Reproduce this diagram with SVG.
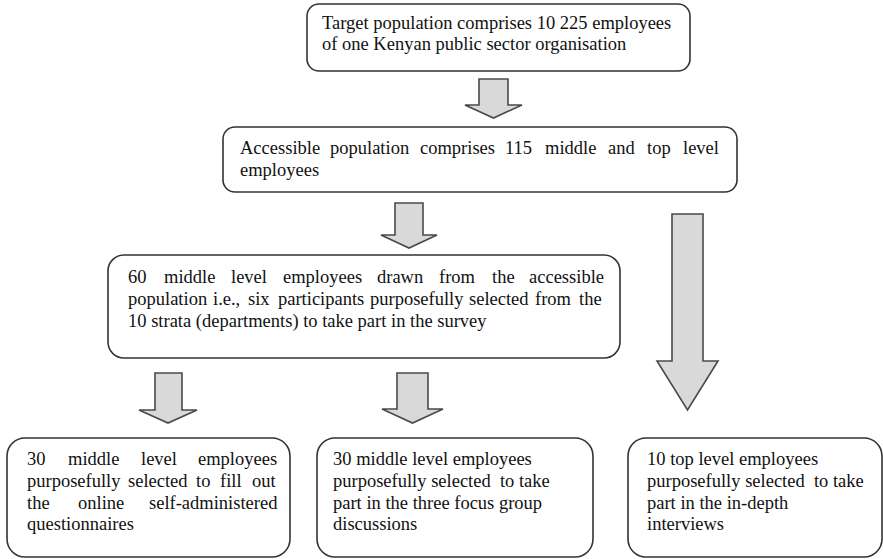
<svg xmlns="http://www.w3.org/2000/svg" width="883" height="559" viewBox="0 0 883 559">
  <style>
    .box { fill: #ffffff; stroke: #333333; stroke-width: 1.6; }
    .arrow { fill: #d9d9d9; stroke: #4a4a4a; stroke-width: 1.6; stroke-linejoin: miter; }
    text { font-family: 'Liberation Serif', Tinos, 'Times New Roman', Times, serif; font-size: 18.5px; fill: #111111; }
  </style>
  <rect width="883" height="559" fill="#ffffff"/>

  <!-- block arrows between the stages -->
  <g id="connectors">
    <polygon class="arrow" points="479,79 508,79 508,105 522,105 493.5,118 465,105 479,105"/>
    <polygon class="arrow" points="395,203 423,203 423,235 437,235 409,248 381,235 395,235"/>
    <polygon class="arrow" points="155,373 182,373 182,410 197,410 168,423 139,410 155,410"/>
    <polygon class="arrow" points="397,373 428,373 428,409 443,409 412.5,423 382,409 397,409"/>
    <polygon class="arrow" points="672,214 703,214 703,361 718,361 687.5,410 657,361 672,361"/>
  </g>

  <g id="target">
    <rect class="box" x="307" y="4" width="383" height="67" rx="12"/>
    <text x="322" y="29">Target population comprises 10 225 employees</text>
    <text x="322" y="50">of one Kenyan public sector organisation</text>
  </g>

  <g id="accessible">
    <rect class="box" x="223" y="127" width="514" height="65" rx="12"/>
    <text y="154"><tspan x="240">Accessible</tspan><tspan x="330">population</tspan><tspan x="420">comprises</tspan><tspan x="505">115</tspan><tspan x="545">middle</tspan><tspan x="608">and</tspan><tspan x="647">top</tspan><tspan x="683">level</tspan></text>
    <text x="240" y="176">employees</text>
  </g>

  <g id="survey-sample">
    <rect class="box" x="108" y="255" width="512" height="103" rx="16"/>
    <text y="283"><tspan x="128">60</tspan><tspan x="164">middle</tspan><tspan x="231">level</tspan><tspan x="283">employees</tspan><tspan x="377">drawn</tspan><tspan x="439">from</tspan><tspan x="492">the</tspan><tspan x="529">accessible</tspan></text>
    <text y="305"><tspan x="128">population</tspan><tspan x="213">i.e.,</tspan><tspan x="248">six</tspan><tspan x="278">participants</tspan><tspan x="370">purposefully</tspan><tspan x="469">selected</tspan><tspan x="535">from</tspan><tspan x="579">the</tspan></text>
    <text x="128" y="327">10 strata (departments) to take part in the survey</text>
  </g>

  <g id="questionnaires">
    <rect class="box" x="7" y="438" width="283" height="119" rx="18"/>
    <text y="465"><tspan x="27">30</tspan><tspan x="68">middle</tspan><tspan x="141">level</tspan><tspan x="198">employees</tspan></text>
    <text y="487"><tspan x="27">purposefully</tspan><tspan x="128">selected</tspan><tspan x="196">to</tspan><tspan x="220">fill</tspan><tspan x="252">out</tspan></text>
    <text y="509"><tspan x="27">the</tspan><tspan x="78">online</tspan><tspan x="149">self-administered</tspan></text>
    <text x="27" y="530">questionnaires</text>
  </g>

  <g id="focus-groups">
    <rect class="box" x="317" y="438" width="276" height="119" rx="18"/>
    <text x="333" y="465">30 middle level employees</text>
    <text x="333" y="487" xml:space="preserve">purposefully selected  to take</text>
    <text x="333" y="509">part in the three focus group</text>
    <text x="333" y="530">discussions</text>
  </g>

  <g id="interviews">
    <rect class="box" x="628" y="438" width="254" height="119" rx="18"/>
    <text x="647" y="465">10 top level employees</text>
    <text x="647" y="487" xml:space="preserve">purposefully selected  to take</text>
    <text x="647" y="509">part in the in-depth</text>
    <text x="647" y="530">interviews</text>
  </g>
</svg>
